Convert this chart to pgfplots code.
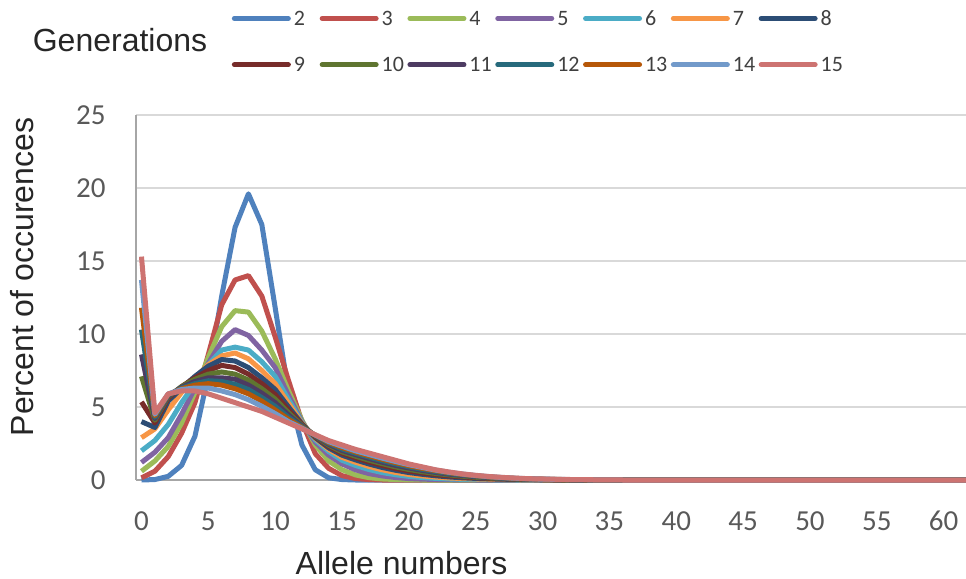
\documentclass[border=0pt]{standalone}
\usepackage{pgfplots}
\pgfplotsset{compat=1.18}
\usepackage{pgfplotstable}
\usepackage{fontspec}
\setmainfont{Liberation Sans}
\newfontfamily\carlito{Carlito}

\definecolor{c2}{HTML}{4F81BD}
\definecolor{c3}{HTML}{C0504D}
\definecolor{c4}{HTML}{9BBB59}
\definecolor{c5}{HTML}{8064A2}
\definecolor{c6}{HTML}{4BACC6}
\definecolor{c7}{HTML}{F79646}
\definecolor{c8}{HTML}{2C4D75}
\definecolor{c9}{HTML}{772C2A}
\definecolor{c10}{HTML}{5F7530}
\definecolor{c11}{HTML}{4D3B62}
\definecolor{c12}{HTML}{276A7C}
\definecolor{c13}{HTML}{B65708}
\definecolor{c14}{HTML}{729ACA}
\definecolor{c15}{HTML}{CD7371}
\definecolor{tickgray}{HTML}{595959}
\definecolor{axisgray}{HTML}{A6A6A6}
\definecolor{gridgray}{HTML}{D9D9D9}
\definecolor{titlegray}{HTML}{262626}
\definecolor{legendgray}{HTML}{404040}

\pgfplotstableread{
x g2 g3 g4 g5 g6 g7 g8 g9 g10 g11 g12 g13 g14 g15
0 0 0.15 0.6 1.2 2.0 2.9 4.0 5.35 7.1 8.6 10.3 11.8 13.7 15.3
1 0.03 0.6 1.3 1.9 2.7 3.5 3.6 3.9 4.1 4.2 4.3 4.4 4.5 4.6
2 0.25 1.6 2.3 2.9 3.8 4.8 5.4 5.6 5.7 5.75 5.8 5.85 5.9 5.9
3 1.0 3.2 3.9 4.5 5.3 6.0 6.3 6.4 6.4 6.35 6.3 6.25 6.2 6.1
4 3.0 5.3 6.0 6.3 6.6 7.0 7.1 7.0 6.9 6.75 6.6 6.5 6.3 6.1
5 7.2 8.6 8.4 8.0 7.9 7.9 7.8 7.5 7.25 7.0 6.8 6.6 6.3 5.9
6 12.6 12.0 10.5 9.5 8.9 8.5 8.25 7.85 7.4 7.0 6.75 6.5 6.1 5.6
7 17.3 13.7 11.6 10.3 9.1 8.7 8.15 7.7 7.25 6.9 6.55 6.25 5.85 5.3
8 19.6 14.0 11.5 9.9 8.9 8.3 7.7 7.25 6.85 6.5 6.2 5.9 5.5 5.0
9 17.5 12.6 10.2 8.9 8.1 7.5 7.0 6.6 6.25 5.95 5.65 5.4 5.05 4.7
10 11.8 9.8 8.3 7.7 7.1 6.6 6.2 5.85 5.55 5.3 5.05 4.8 4.55 4.3
11 6.0 6.8 6.1 5.8 5.5 5.25 5.0 4.8 4.6 4.45 4.3 4.15 4.0 3.9
12 2.4 4.0 4.1 4.0 3.95 3.9 3.85 3.8 3.75 3.7 3.65 3.6 3.55 3.5
13 0.7 1.8 2.4 2.6 2.75 2.85 2.9 2.95 3.0 3.02 3.05 3.07 3.08 3.1
14 0.15 0.8 1.3 1.7 1.95 2.1 2.2 2.3 2.38 2.45 2.52 2.57 2.63 2.7
15 0.03 0.3 0.7 1.1 1.35 1.55 1.7 1.83 1.93 2.02 2.12 2.22 2.31 2.4
16 0 0.1 0.35 0.7 1.0 1.22 1.38 1.52 1.63 1.74 1.83 1.92 2.0 2.1
17 0 0.03 0.16 0.44 0.72 0.93 1.1 1.24 1.36 1.47 1.57 1.66 1.75 1.85
18 0 0 0.07 0.28 0.51 0.7 0.86 1.0 1.12 1.22 1.32 1.42 1.5 1.6
19 0 0 0.03 0.17 0.36 0.52 0.67 0.79 0.9 1.0 1.1 1.19 1.27 1.35
20 0 0 0.01 0.1 0.25 0.38 0.51 0.62 0.72 0.82 0.9 0.98 1.05 1.1
21 0 0 0 0.06 0.17 0.28 0.39 0.48 0.57 0.66 0.73 0.8 0.86 0.9
22 0 0 0 0.035 0.11 0.2 0.29 0.37 0.45 0.52 0.58 0.64 0.68 0.7
23 0 0 0 0.02 0.07 0.14 0.21 0.28 0.35 0.4 0.45 0.5 0.53 0.55
24 0 0 0 0.01 0.045 0.1 0.15 0.21 0.26 0.31 0.35 0.38 0.41 0.42
25 0 0 0 0 0.03 0.07 0.11 0.15 0.19 0.23 0.26 0.29 0.31 0.32
26 0 0 0 0 0.02 0.05 0.08 0.11 0.14 0.17 0.19 0.21 0.23 0.24
27 0 0 0 0 0.01 0.035 0.055 0.08 0.1 0.12 0.14 0.16 0.17 0.18
28 0 0 0 0 0 0.02 0.04 0.055 0.07 0.09 0.1 0.11 0.12 0.13
29 0 0 0 0 0 0.01 0.025 0.04 0.05 0.06 0.07 0.08 0.085 0.09
30 0 0 0 0 0 0 0.015 0.025 0.035 0.04 0.05 0.055 0.06 0.07
31 0 0 0 0 0 0 0.01 0.015 0.02 0.03 0.035 0.04 0.045 0.05
32 0 0 0 0 0 0 0 0.01 0.013 0.018 0.022 0.027 0.03 0.035
33 0 0 0 0 0 0 0 0 0.008 0.012 0.015 0.018 0.02 0.025
34 0 0 0 0 0 0 0 0 0 0.006 0.008 0.01 0.012 0.015
35 0 0 0 0 0 0 0 0 0 0 0.005 0.006 0.008 0.01
36 0 0 0 0 0 0 0 0 0 0 0 0 0 0
61.7 0 0 0 0 0 0 0 0 0 0 0 0 0 0
}\alleles

\begin{document}
\begin{tikzpicture}
\useasboundingbox (-68bp,-49.5bp) rectangle (415bp,240bp);
\begin{axis}[
  name=ax,
  scale only axis,
  width=415bp, height=182.5bp,
  xmin=-0.41, xmax=61.67,
  ymin=0, ymax=25,
  xtick={0,5,...,60},
  ytick={0,5,...,25},
  major tick length=0pt,
  axis x line*=bottom, axis y line*=left,
  axis line style={-, draw=axisgray, line width=1.2bp},
  ymajorgrids,
  grid style={draw=gridgray, line width=1bp},
  clip=false,
  /pgf/number format/assume math mode=true,
  ticklabel style={font=\carlito\fontsize{14.5bp}{17bp}\selectfont, text=tickgray},
  xticklabel style={anchor=north, inner sep=0pt, yshift=-15.5bp},
  yticklabel style={anchor=east, inner sep=0pt, xshift=-15bp},
  xlabel={Allele numbers},
  ylabel={Percent of occurences},
  label style={font=\fontsize{16bp}{19bp}\selectfont, text=titlegray},
  xlabel style={at={(axis description cs:0.3199,-0.2274)}, anchor=center, inner sep=0pt},
  ylabel style={at={(axis description cs:-0.1373,0.556)}, anchor=center, inner sep=0pt},
  legend columns=7,
  legend image code/.code={\draw[#1,line cap=round] (0bp,3.6bp) -- (27bp,3.6bp);},
  legend style={draw=none, fill=none, at={(0.1150,1.2871)}, anchor=north west,
    font=\carlito\fontsize{11bp}{13bp}\selectfont, text=legendgray,
    inner sep=0pt, row sep=14.5bp,
    /tikz/every odd column/.append style={column sep=1.5bp},
    /tikz/every even column/.append style={column sep=0pt},
    nodes={inner sep=0pt, anchor=base west}},
  legend cell align=left,
  every axis plot/.append style={line width=2.5bp, line join=round, no markers},
]
\addplot[c2] table[x=x,y=g2] {\alleles}; \addlegendentry{\makebox[12.9bp][l]{2}}
\addplot[c3] table[x=x,y=g3] {\alleles}; \addlegendentry{\makebox[12.9bp][l]{3}}
\addplot[c4] table[x=x,y=g4] {\alleles}; \addlegendentry{\makebox[12.9bp][l]{4}}
\addplot[c5] table[x=x,y=g5] {\alleles}; \addlegendentry{\makebox[12.9bp][l]{5}}
\addplot[c6] table[x=x,y=g6] {\alleles}; \addlegendentry{\makebox[12.9bp][l]{6}}
\addplot[c7] table[x=x,y=g7] {\alleles}; \addlegendentry{\makebox[12.9bp][l]{7}}
\addplot[c8] table[x=x,y=g8] {\alleles}; \addlegendentry{\makebox[12.9bp][l]{8}}
\addplot[c9] table[x=x,y=g9] {\alleles}; \addlegendentry{\makebox[12.9bp][l]{9}}
\addplot[c10] table[x=x,y=g10] {\alleles}; \addlegendentry{\makebox[12.9bp][l]{10}}
\addplot[c11] table[x=x,y=g11] {\alleles}; \addlegendentry{\makebox[12.9bp][l]{11}}
\addplot[c12] table[x=x,y=g12] {\alleles}; \addlegendentry{\makebox[12.9bp][l]{12}}
\addplot[c13] table[x=x,y=g13] {\alleles}; \addlegendentry{\makebox[12.9bp][l]{13}}
\addplot[c14] table[x=x,y=g14] {\alleles}; \addlegendentry{\makebox[12.9bp][l]{14}}
\addplot[c15] table[x=x,y=g15] {\alleles}; \addlegendentry{\makebox[12.9bp][l]{15}}
\end{axis}
\node[anchor=center, inner sep=0pt, font=\fontsize{16bp}{19bp}\selectfont, text=titlegray]
  at ([xshift=-8bp,yshift=220bp]ax.south west) {Generations};
\end{tikzpicture}
\end{document}
